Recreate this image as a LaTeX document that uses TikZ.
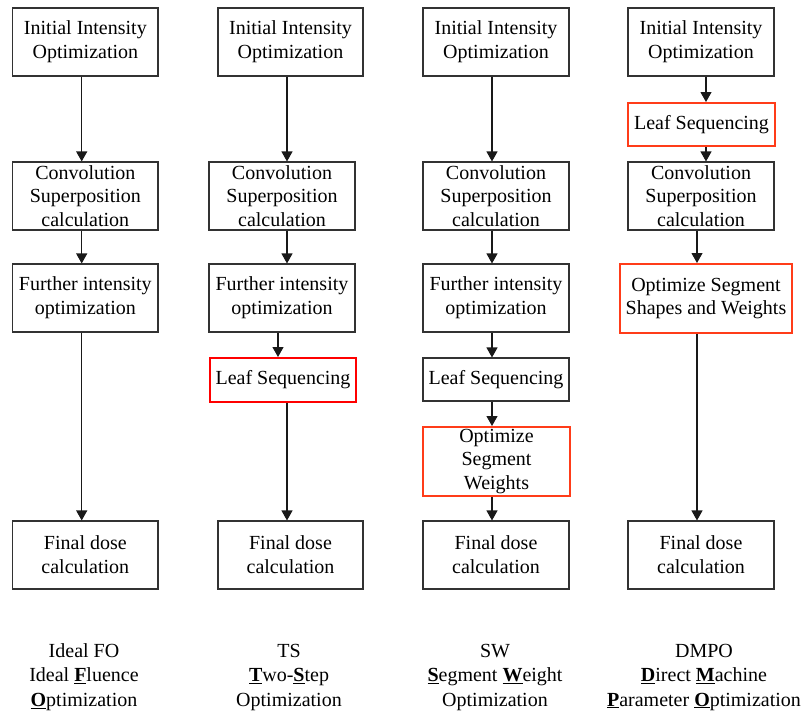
\documentclass[tikz,border=0pt]{standalone}
\usepackage{fontspec}
\setmainfont{Liberation Serif}
\usetikzlibrary{arrows.meta}
\definecolor{boxline}{RGB}{50,50,50}
\definecolor{hired}{RGB}{255,60,25}
\definecolor{purered}{RGB}{255,0,0}
\newcommand{\ub}[1]{\underline{\textbf{#1}}}
\begin{document}
\begin{tikzpicture}[x=1pt,y=-1pt,
  txt/.style={font=\fontsize{20}{23.8}\selectfont, align=center, inner sep=0pt},
  plain/.style={txt, draw=boxline, line width=1.1pt},
  hot/.style={txt, draw=hired, line width=2pt},
  hotts/.style={txt, draw=purered, line width=2pt},
  arr/.style={draw=black!90, line width=1.1pt, -{Triangle[width=11pt,length=10pt]}},
  lbl/.style={font=\fontsize{20}{24.5}\selectfont, align=center, inner sep=0pt}]
\useasboundingbox (0,0) rectangle (809,710);
% arrow columns
\coordinate (xa1) at (81.7,0);
\coordinate (xa2) at (287,0);
\coordinate (xa2b) at (278,0);
\coordinate (xa3) at (492,0);
\coordinate (xa4) at (706,0);
\coordinate (xa4b) at (697,0);
% column 1
\node[plain, minimum width=145.3pt, minimum height=68pt] (I1) at (85.35,42) {Initial Intensity\\Optimization};
\node[plain, minimum width=145.3pt, minimum height=68pt] (C1) at (85.35,196) {Convolution\\Superposition\\calculation};
\node[plain, minimum width=145.3pt, minimum height=68pt] (F1) at (85.35,298) {Further intensity\\optimization};
\node[plain, minimum width=145.3pt, minimum height=68pt] (D1) at (85.35,555) {Final dose\\calculation};
% column 2
\node[plain, minimum width=145pt, minimum height=68pt] (I2) at (290.5,42) {Initial Intensity\\Optimization};
\node[plain, minimum width=146pt, minimum height=68pt] (C2) at (282,196) {Convolution\\Superposition\\calculation};
\node[plain, minimum width=146pt, minimum height=68pt] (F2) at (282,298) {Further intensity\\optimization};
\node[hotts, minimum width=146pt, minimum height=44pt] (L2) at (283,380) {Leaf Sequencing};
\node[plain, minimum width=145pt, minimum height=68pt] (D2) at (290.5,555) {Final dose\\calculation};
% column 3
\node[plain, minimum width=146pt, minimum height=68pt] (I3) at (496,42) {Initial Intensity\\Optimization};
\node[plain, minimum width=146pt, minimum height=68pt] (C3) at (496,196) {Convolution\\Superposition\\calculation};
\node[plain, minimum width=146pt, minimum height=68pt] (F3) at (496,298) {Further intensity\\optimization};
\node[plain, minimum width=146pt, minimum height=43pt] (L3) at (496,379.5) {Leaf Sequencing};
\node[hot, minimum width=147pt, minimum height=69pt] (O3) at (496.5,461.5) {Optimize\\Segment\\Weights};
\node[plain, minimum width=146pt, minimum height=68pt] (D3) at (496,555) {Final dose\\calculation};
% column 4
\node[plain, minimum width=146pt, minimum height=68pt] (I4) at (701,42) {Initial Intensity\\Optimization};
\node[hot, minimum width=147pt, minimum height=43pt] (L4) at (701.5,124.5) {Leaf Sequencing};
\node[plain, minimum width=146pt, minimum height=68pt] (C4) at (701,196) {Convolution\\Superposition\\calculation};
\node[hot, minimum width=172pt, minimum height=69pt] (O4) at (706,298.5) {Optimize Segment\\Shapes and Weights};
\node[plain, minimum width=146pt, minimum height=68pt] (D4) at (701,555) {Final dose\\calculation};
% arrows
\draw[arr] (I1.south -| xa1) -- (C1.north -| xa1);
\draw[arr] (C1.south -| xa1) -- (F1.north -| xa1);
\draw[arr] (F1.south -| xa1) -- (D1.north -| xa1);
\draw[arr] (I2.south -| xa2) -- (C2.north -| xa2);
\draw[arr] (C2.south -| xa2) -- (F2.north -| xa2);
\draw[arr] (F2.south -| xa2b) -- (L2.north -| xa2b);
\draw[arr] (L2.south -| xa2) -- (D2.north -| xa2);
\draw[arr] (I3.south -| xa3) -- (C3.north -| xa3);
\draw[arr] (C3.south -| xa3) -- (F3.north -| xa3);
\draw[arr] (F3.south -| xa3) -- (L3.north -| xa3);
\draw[arr] (L3.south -| xa3) -- (O3.north -| xa3);
\draw[arr] (O3.south -| xa3) -- (D3.north -| xa3);
\draw[arr] (I4.south -| xa4) -- (L4.north -| xa4);
\draw[arr] (L4.south -| xa4) -- (C4.north -| xa4);
\draw[arr] (C4.south -| xa4b) -- (O4.north -| xa4b);
\draw[arr] (O4.south -| xa4b) -- (D4.north -| xa4b);
% bottom labels
\node[lbl] (T1) at (84,677) {Ideal FO\\Ideal \ub{F}luence\\\ub{O}ptimization};
\node[lbl] (T2) at (289,677) {TS\\\ub{T}wo-\ub{S}tep\\Optimization};
\node[lbl] (T3) at (495,677) {SW\\\ub{S}egment \ub{W}eight\\Optimization};
\node[lbl] (T4) at (704,677) {DMPO\\\ub{D}irect \ub{M}achine\\\ub{P}arameter \ub{O}ptimization};
\end{tikzpicture}
\end{document}
